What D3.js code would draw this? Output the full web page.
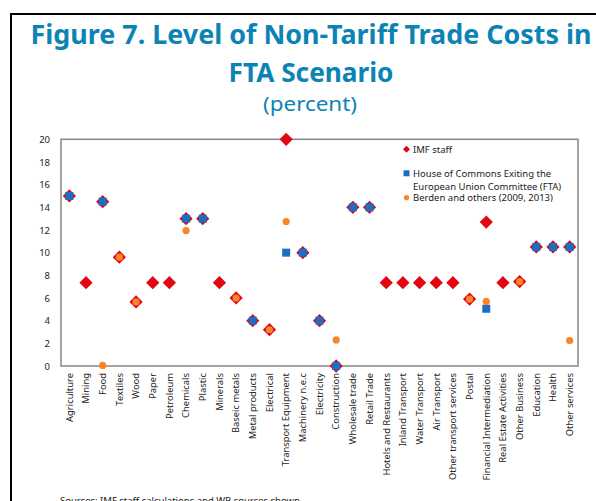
<!DOCTYPE html>
<html>
<head>
<meta charset="utf-8">
<script src="https://cdn.jsdelivr.net/npm/d3@7"></script>
<style>
  html, body { margin: 0; padding: 0; background: #fff; overflow: hidden; }
  svg { display: block; }
</style>
</head>
<body>
<svg id="chart" width="596" height="501"></svg>
<script>
const categories = ["Agriculture","Mining","Food","Textiles","Wood","Paper","Petroleum","Chemicals","Plastic","Minerals","Baseic metals","Metal products","Electrical","Transport Equipment","Machinery n.e.c","Electricity","Construction","Wholesale trade","Retail Trade","Hotels and Restaurants","Inland Transport","Water Transport","Air Transport","Other transport services","Postal","Financial Intermediation","Real Estate Activities","Other Business","Education","Health","Other services"];
const imfStaff = [15, 7.35, 14.5, 9.6, 5.65, 7.35, 7.35, 13, 13, 7.35, 6, 4, 3.2, 20, 10, 4, 0, 14, 14, 7.35, 7.35, 7.35, 7.35, 7.35, 5.9, 12.7, 7.35, 7.45, 10.5, 10.5, 10.5];
const houseOfCommons = [15, null, 14.5, null, null, null, null, 13, 13, null, null, 4, null, 10, 10, 4, 0, 14, 14, null, null, null, null, null, null, 5.05, null, null, 10.5, 10.5, 10.5];
const berden = [null, null, 0.05, 9.6, 5.65, null, null, 11.95, null, null, 6, null, 3.2, 12.75, null, null, 2.3, null, null, null, null, null, null, null, 5.9, 5.7, null, 7.45, null, null, 2.25];
const yTickValues = [0, 2, 4, 6, 8, 10, 12, 14, 16, 18, 20];
const seriesNames = ["IMF staff", "House of Commons Exiting the|European Union Committee (FTA)", "Berden and others (2009, 2013)"];

const RED = "#E30613", BLUE = "#1B6FC2", ORANGE = "#F7862A", TITLE = "#0B84B5";
const FONT = "'Noto Sans', 'Open Sans', sans-serif";

const svg = d3.select("#chart");

// outer frame
svg.append("rect").attr("x", 11).attr("y", 14).attr("width", 640).attr("height", 560)
  .attr("fill", "none").attr("stroke", "#000").attr("stroke-width", 2);

// titles
svg.append("text").attr("x", 311).attr("y", 44).attr("text-anchor", "middle")
  .attr("font-family", FONT).attr("font-weight", "bold").attr("font-size", 27)
  .attr("fill", TITLE).attr("textLength", 561).attr("lengthAdjust", "spacingAndGlyphs")
  .text("Figure 7. Level of Non-Tariff Trade Costs in");
svg.append("text").attr("x", 311).attr("y", 82).attr("text-anchor", "middle")
  .attr("font-family", FONT).attr("font-weight", "bold").attr("font-size", 27)
  .attr("fill", TITLE).attr("textLength", 165).attr("lengthAdjust", "spacingAndGlyphs")
  .text("FTA Scenario");
svg.append("text").attr("x", 310).attr("y", 111).attr("text-anchor", "middle")
  .attr("font-family", FONT).attr("font-size", 20)
  .attr("fill", TITLE).attr("textLength", 94).attr("lengthAdjust", "spacingAndGlyphs")
  .text("(percent)");

const pLeft = 61, pRight = 578, pTop = 139.3, pBottom = 366;
const x = d3.scaleBand().domain(categories).range([pLeft, pRight]);
const y = d3.scaleLinear().domain([0, 20]).range([pBottom, pTop]);
const cx = c => x(c) + x.bandwidth() / 2;

// plot frame
svg.append("rect").attr("x", pLeft).attr("y", pTop).attr("width", pRight - pLeft).attr("height", pBottom - pTop)
  .attr("fill", "none").attr("stroke", "#868686").attr("stroke-width", 1.5);

// y axis
const yAxis = svg.append("g").attr("transform", `translate(${pLeft},0)`)
  .call(d3.axisLeft(y).tickValues(yTickValues).tickSize(0).tickPadding(11));
yAxis.select(".domain").remove();
yAxis.selectAll("text").attr("font-family", FONT).attr("font-size", 9.5).attr("fill", "#222");

// x axis
const xAxis = svg.append("g").attr("transform", `translate(0,${pBottom})`)
  .call(d3.axisBottom(x).tickSize(0));
xAxis.select(".domain").remove();
xAxis.selectAll("text")
  .attr("font-family", FONT).attr("font-size", 9.4).attr("fill", "#222")
  .attr("text-anchor", "end").attr("transform", "rotate(-90)")
  .attr("x", -7).attr("y", 0).attr("dy", "0.35em");

// marks
const diamond = d3.symbol(d3.symbolSquare, 88);
const square = d3.symbol(d3.symbolSquare, 64);

svg.append("g").selectAll("path").data(categories.map((c, i) => [c, imfStaff[i]]).filter(d => d[1] != null))
  .join("path").attr("d", diamond)
  .attr("transform", d => `translate(${cx(d[0])},${y(d[1])}) rotate(45)`)
  .attr("fill", RED);

svg.append("g").selectAll("path").data(categories.map((c, i) => [c, houseOfCommons[i]]).filter(d => d[1] != null))
  .join("path").attr("d", square)
  .attr("transform", d => `translate(${cx(d[0])},${y(d[1])})`)
  .attr("fill", BLUE);

svg.append("g").selectAll("circle").data(categories.map((c, i) => [c, berden[i]]).filter(d => d[1] != null))
  .join("circle").attr("cx", d => cx(d[0])).attr("cy", d => y(d[1])).attr("r", 3.6)
  .attr("fill", ORANGE);

// legend
const lg = svg.append("g").attr("font-family", FONT).attr("font-size", 9.5).attr("fill", "#222");
lg.append("path").attr("d", d3.symbol(d3.symbolSquare, 25)).attr("transform", "translate(406.5,149.3) rotate(45)").attr("fill", RED);
lg.append("text").attr("x", 413).attr("y", 152.6).text(seriesNames[0]);
lg.append("path").attr("d", d3.symbol(d3.symbolSquare, 36)).attr("transform", "translate(406.5,173.3)").attr("fill", BLUE);
const parts = seriesNames[1].split("|");
lg.append("text").attr("x", 413).attr("y", 176.6).text(parts[0]);
lg.append("text").attr("x", 413).attr("y", 190.3).text(parts[1]);
lg.append("circle").attr("cx", 406.5).attr("cy", 197.7).attr("r", 2.6).attr("fill", ORANGE);
lg.append("text").attr("x", 413).attr("y", 201.4).text(seriesNames[2]);

// source
svg.append("text").attr("x", 60).attr("y", 504).attr("font-family", FONT).attr("font-size", 9.5).attr("fill", "#222")
  .text("Sources: IMF staff calculations and WB sources shown");
</script>
</body>
</html>
